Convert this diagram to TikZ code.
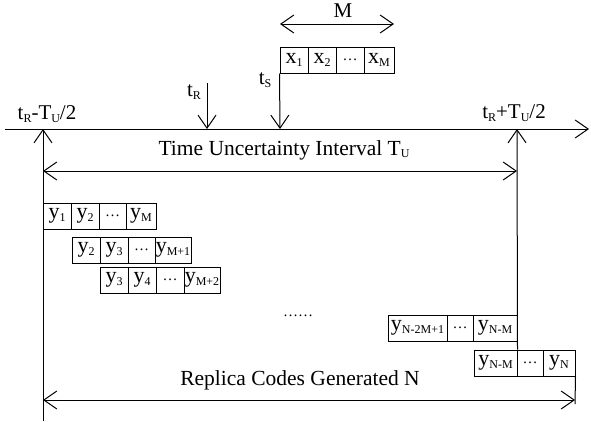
\documentclass[tikz,border=0pt]{standalone}
\usepackage{fontspec}
\setmainfont{Liberation Serif}
\usetikzlibrary{arrows.meta}
\newcommand\sbx[1]{\raisebox{-0.25ex}{\fontsize{12}{12}\selectfont #1}}
\newcommand\mkcell[5]{\node[cellbox, minimum width={#3-#2}] (#1) at ({(#2+#3)/2},#4) {#5};}
\begin{document}
\begin{tikzpicture}[x=1pt,y=-1pt,
  cellbox/.style={draw, line width=1pt, minimum height=26pt, inner sep=0pt, font=\fontsize{22}{24}\selectfont},
  lbl/.style={inner sep=0pt, font=\fontsize{21}{24}\selectfont},
  ln/.style={line width=1pt},
  arr/.style={ln, -{Straight Barb[length=13pt,width=18pt]}},
  darr/.style={ln, {Straight Barb[length=13pt,width=18pt]}-{Straight Barb[length=13pt,width=18pt]}}]
\useasboundingbox (0,0) rectangle (591,421);
% coordinates
\coordinate (axL) at (5,129);
\coordinate (axR) at (589,129);
\coordinate (tlo) at (43,129);
\coordinate (thi) at (517,129);
\coordinate (bot) at (43,421);
\coordinate (tRtop) at (207,83);
\coordinate (tRax) at (207,129);
\coordinate (tSax) at (280,129);
\coordinate (tuL) at (43,171);
\coordinate (tuR) at (517,171);
\coordinate (rcL) at (43,400);
\coordinate (rcR) at (575,400);
\coordinate (rcend) at (575,404);
\coordinate (mL) at (280,24);
\coordinate (mR) at (394,24);
% x row
\mkcell{x1}{280}{308}{60}{x\sbx{1}}
\mkcell{x2}{308}{336}{60}{x\sbx{2}}
\mkcell{x3}{336}{364}{60}{\fontsize{15}{15}\selectfont\dots}
\mkcell{x4}{364}{394}{60}{x\sbx{M}}
% row 1
\mkcell{a1}{43}{71}{216}{y\sbx{1}}
\mkcell{a2}{71}{99}{216}{y\sbx{2}}
\mkcell{a3}{99}{126}{216}{\fontsize{15}{15}\selectfont\dots}
\mkcell{a4}{126}{156}{216}{y\sbx{M}}
% row 2
\mkcell{b1}{72}{100}{250}{y\sbx{2}}
\mkcell{b2}{100}{128}{250}{y\sbx{3}}
\mkcell{b3}{128}{155}{250}{\fontsize{15}{15}\selectfont\dots}
\mkcell{b4}{155}{191}{250}{y\sbx{M+1}}
% row 3
\mkcell{c1}{100}{128}{280}{y\sbx{3}}
\mkcell{c2}{128}{156}{280}{y\sbx{4}}
\mkcell{c3}{156}{184}{280}{\fontsize{15}{15}\selectfont\dots}
\mkcell{c4}{184}{220}{280}{y\sbx{M+2}}
% row N-1
\mkcell{n1}{388}{447}{328}{y\sbx{N-2M+1}}
\mkcell{n2}{447}{473}{328}{\fontsize{15}{15}\selectfont\dots}
\mkcell{n3}{473}{517}{328}{y\sbx{N-M}}
% row N
\mkcell{p1}{474}{517}{363}{y\sbx{N-M}}
\mkcell{p2}{517}{543}{363}{\fontsize{15}{15}\selectfont\dots}
\mkcell{p3}{543}{575}{363}{y\sbx{N}}
% labels
\node[lbl] (lM) at (343,11) {M};
\node[lbl] (ltS) at (265,80) {t\sbx{S}};
\node[lbl] (ltR) at (194,92) {t\sbx{R}};
\node[lbl] (llo) at (47,114) {t\sbx{R}-T\sbx{U}/2};
\node[lbl] (lhi) at (514,113) {t\sbx{R}+T\sbx{U}/2};
\node[lbl, font=\fontsize{21.5}{24}\selectfont] (ltu) at (284,150) {Time Uncertainty Interval T\sbx{U}};
\node[lbl, font=\fontsize{21.5}{24}\selectfont] (lrc) at (300,380) {Replica Codes Generated N};
\node[inner sep=0pt, font=\fontsize{15}{15}\selectfont] (ldots) at (298,316) {\dots\dots};
% connectors
\draw[arr] (axL) -- (axR);
\draw[arr] (bot) -- (tlo);
\draw[arr] (p1.north east) -- (thi);
\draw[arr] (tRtop) -- (tRax);
\draw[arr] (x1.south west) -- (tSax);
\draw[darr] (mL) -- (mR);
\draw[darr] (tuL) -- (tuR);
\draw[darr] (rcL) -- (rcR);
\draw[ln] (p3.south east) -- (rcend);
\end{tikzpicture}
\end{document}
